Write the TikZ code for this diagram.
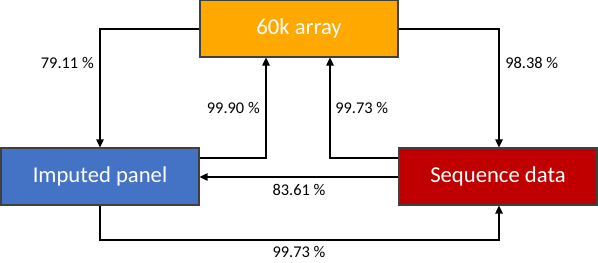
\documentclass[tikz,border=0pt]{standalone}
\usepackage{fontspec}
\setmainfont{Carlito}
\usetikzlibrary{arrows.meta}
\definecolor{boxorange}{HTML}{FFA800}
\definecolor{boxblue}{HTML}{4472C4}
\definecolor{boxred}{HTML}{C00000}
\definecolor{boxline}{HTML}{404040}
\begin{document}
\begin{tikzpicture}[x=0.75pt,y=-0.75pt,
  databox/.style={draw=boxline,line width=0.8pt,minimum width=148.5pt,minimum height=42.75pt,
    text=white,font=\fontsize{17}{20}\selectfont,inner sep=0pt},
  flow/.style={line width=1.1pt,-{Triangle[length=6pt,width=5.5pt]}},
  pct/.style={font=\fontsize{12.3}{14}\selectfont,text=black,inner sep=0pt}]
\useasboundingbox (0,0) rectangle (598,263);
\node[databox,fill=boxorange] (arr) at (299,28.5) {60k array};
\node[databox,fill=boxblue] (imp) at (100,176.5) {Imputed panel};
\node[databox,fill=boxred] (seq) at (498,176.5) {Sequence data};
% 79.11
\coordinate (c1) at (100,29);
\draw[flow] (arr.west |- c1) -| (imp.north);
\node[pct,anchor=east] (l1) at (94,63) {79.11 \%};
% 98.38
\coordinate (c2) at (499,29);
\draw[flow] (arr.east |- c2) -| (seq.north -| c2);
\node[pct,anchor=west] (l2) at (505,63) {98.38 \%};
% 99.90
\coordinate (c3) at (266,158);
\draw[flow] (imp.east |- c3) -| (arr.south -| c3);
\node[pct,anchor=east] (l3) at (260,108) {99.90 \%};
% 99.73 upper
\coordinate (c4) at (330,158);
\draw[flow] (seq.west |- c4) -| (arr.south -| c4);
\node[pct,anchor=west] (l4) at (335,108) {99.73 \%};
% 83.61
\coordinate (c5) at (299,177);
\draw[flow] (seq.west |- c5) -- (imp.east |- c5);
\node[pct] (l5) at (299,190) {83.61 \%};
% 99.73 lower
\coordinate (c6) at (299,240);
\draw[flow] (imp.south) |- (c6) -| (seq.south -| c2);
\node[pct] (l6) at (299,252) {99.73 \%};
\end{tikzpicture}
\end{document}
